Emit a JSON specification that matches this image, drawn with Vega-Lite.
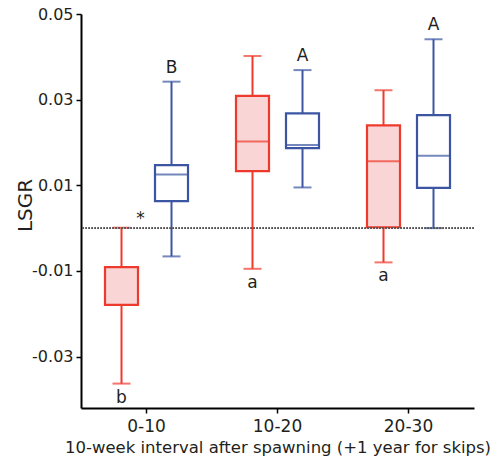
{
  "$schema": "https://vega.github.io/schema/vega-lite/v6.json",
  "width": 393,
  "height": 394,
  "autosize": "none",
  "padding": {"left": 81, "top": 14, "right": 26, "bottom": 55},
  "background": "white",
  "config": {
    "view": {"stroke": null},
    "font": "DejaVu Sans",
    "axis": {
      "domainColor": "#000000", "domainWidth": 2, "tickColor": "#000000", "tickWidth": 1.5, "tickSize": 5,
      "labelFont": "DejaVu Sans", "labelFontSize": 16, "labelColor": "#231f20",
      "titleFont": "DejaVu Sans", "titleFontSize": 16.5, "titleFontWeight": "normal", "titleColor": "#231f20",
      "grid": false
    }
  },
  "data": {
    "values": [
      {"interval": "0-10", "group": "Spawners", "low": -0.0363, "q1": -0.0179, "median": -0.0091, "q3": -0.0091, "high": 0.0001, "letter": "b"},
      {"interval": "0-10", "group": "Skippers", "low": -0.0066, "q1": 0.0063, "median": 0.0125, "q3": 0.0147, "high": 0.0342, "letter": "B"},
      {"interval": "10-20", "group": "Spawners", "low": -0.0095, "q1": 0.0133, "median": 0.0202, "q3": 0.0309, "high": 0.0402, "letter": "a"},
      {"interval": "10-20", "group": "Skippers", "low": 0.0095, "q1": 0.0187, "median": 0.0194, "q3": 0.0268, "high": 0.0369, "letter": "A"},
      {"interval": "20-30", "group": "Spawners", "low": -0.0080, "q1": 0.0002, "median": 0.0156, "q3": 0.0240, "high": 0.0322, "letter": "a"},
      {"interval": "20-30", "group": "Skippers", "low": 0.0000, "q1": 0.0094, "median": 0.0169, "q3": 0.0264, "high": 0.0441, "letter": "A"}
    ]
  },
  "encoding": {
    "x": {
      "field": "interval", "type": "nominal", "sort": ["0-10", "10-20", "20-30"],
      "scale": {"paddingInner": 0, "paddingOuter": 0},
      "axis": {"title": "10-week interval after spawning (+1 year for skips)", "labelAngle": 0, "labelFontSize": 17, "labelPadding": 5, "titlePadding": 5}
    },
    "xOffset": {
      "field": "group", "type": "nominal", "sort": ["Spawners", "Skippers"],
      "scale": {"paddingInner": 0, "paddingOuter": 0.31}
    }
  },
  "layer": [
    {
      "mark": {"type": "rule", "strokeWidth": 2},
      "encoding": {
        "y": {
          "field": "low", "type": "quantitative",
          "scale": {"domain": [-0.042, 0.05], "nice": false, "zero": false},
          "axis": {
            "title": "LSGR", "values": [-0.03, -0.01, 0.01, 0.03, 0.05],
            "labelExpr": "replace(format(datum.value, '.2f'), '\u2212', '-')",
            "labelPadding": 3, "titleFontSize": 20, "titleX": -50, "titleY": 191, "titleBaseline": "alphabetic", "titleAlign": "center", "titleAngle": -90
          }
        },
        "y2": {"field": "high"},
        "color": {"field": "group", "type": "nominal", "sort": ["Spawners", "Skippers"], "scale": {"range": ["#ee3a2c", "#3b55a3"]}, "legend": null}
      }
    },
    {
      "mark": {"type": "tick", "thickness": 2, "size": 18},
      "encoding": {
        "y": {"field": "low", "type": "quantitative"},
        "color": {"field": "group", "type": "nominal", "sort": ["Spawners", "Skippers"], "legend": null}
      }
    },
    {
      "mark": {"type": "tick", "thickness": 2, "size": 18},
      "encoding": {
        "y": {"field": "high", "type": "quantitative"},
        "color": {"field": "group", "type": "nominal", "sort": ["Spawners", "Skippers"], "legend": null}
      }
    },
    {
      "mark": {"type": "bar", "width": 33, "strokeWidth": 2.2},
      "encoding": {
        "y": {"field": "q1", "type": "quantitative"},
        "y2": {"field": "q3"},
        "fill": {"field": "group", "type": "nominal", "sort": ["Spawners", "Skippers"], "scale": {"range": ["#f9d5d6", "#ffffff"]}, "legend": null},
        "stroke": {"field": "group", "type": "nominal", "sort": ["Spawners", "Skippers"], "scale": {"range": ["#ee3a2c", "#3b55a3"]}, "legend": null}
      }
    },
    {
      "mark": {"type": "tick", "thickness": 2, "size": 33},
      "encoding": {
        "y": {"field": "median", "type": "quantitative"},
        "color": {"field": "group", "type": "nominal", "sort": ["Spawners", "Skippers"], "legend": null}
      }
    },
    {
      "mark": {"type": "rule", "strokeDash": [1.5, 1.5], "strokeWidth": 1, "color": "#555555"},
      "encoding": {"y": {"datum": 0, "type": "quantitative"}, "x": null, "xOffset": null}
    },
    {
      "transform": [{"filter": "datum.group === 'Spawners'"}],
      "mark": {"type": "text", "fontSize": 17, "dy": 14, "baseline": "middle", "color": "#231f20"},
      "encoding": {
        "y": {"field": "low", "type": "quantitative"},
        "text": {"field": "letter"}
      }
    },
    {
      "transform": [{"filter": "datum.group === 'Skippers'"}],
      "mark": {"type": "text", "fontSize": 17, "dy": -14, "baseline": "middle", "color": "#231f20"},
      "encoding": {
        "y": {"field": "high", "type": "quantitative"},
        "text": {"field": "letter"}
      }
    },
    {
      "data": {"values": [{"interval": "0-10", "value": 0.0022, "note": "*"}]},
      "mark": {"type": "text", "fontSize": 17, "dx": -6, "baseline": "middle", "color": "#231f20"},
      "encoding": {
        "x": {"field": "interval", "type": "nominal"},
        "xOffset": null,
        "y": {"field": "value", "type": "quantitative"},
        "text": {"field": "note"}
      }
    }
  ]
}
